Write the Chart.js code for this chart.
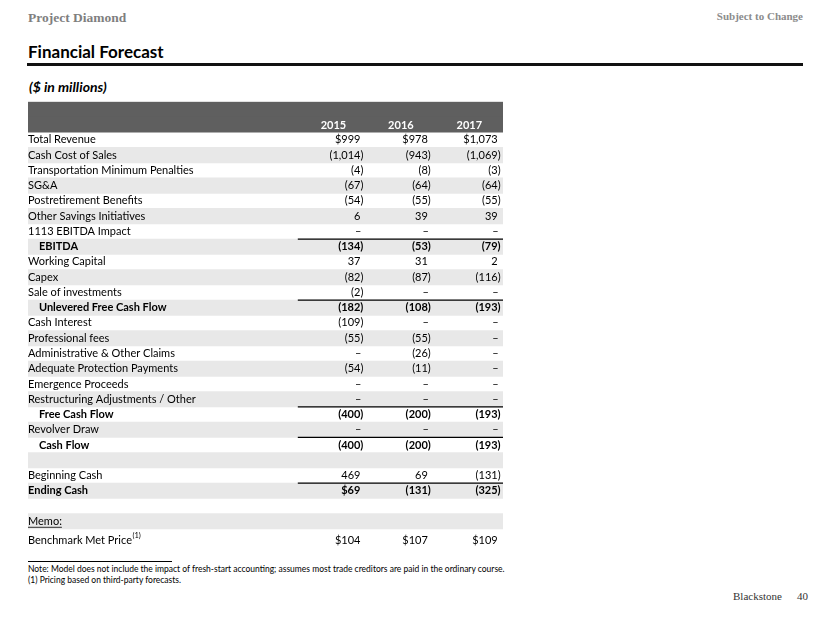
<!DOCTYPE html>
<html>
<head>
<meta charset="utf-8">
<script src="https://cdn.jsdelivr.net/npm/chart.js@4.4.1/dist/chart.umd.min.js"></script>
<style>
  html, body { margin: 0; padding: 0; background: #fff; }
  .page { position: relative; width: 830px; height: 623px; overflow: hidden; font-family: Lato, 'Open Sans', sans-serif; line-height: 1; }
  .serif { font-family: 'Liberation Serif', 'DejaVu Serif', serif; }
  .abs { position: absolute; white-space: nowrap; }
  #proj  { left: 28px; top: 11px; font-size: 13.5px; font-weight: bold; color: #7f7f7f; }
  #subj  { right: 27px; top: 11px; font-size: 11px; font-weight: bold; color: #8c8c8c; }
  #title { left: 28px; top: 43px; font-size: 17px; font-weight: bold; color: #000; }
  #rule  { left: 27px; top: 63px; width: 776px; height: 3px; background: #111; }
  #unit  { left: 29px; top: 80px; font-size: 14px; font-weight: bold; font-style: italic; color: #000; }
  #table { left: 0; top: 90px; width: 520px; height: 470px; }
  #fnrule { left: 28px; top: 561px; width: 144px; height: 1px; background: #000; }
  .fn    { left: 28px; font-size: 8.5px; color: #000; }
  #brand { left: 733px; top: 591px; font-size: 11px; color: #333; }
  #pgno  { left: 797px; top: 591px; font-size: 11px; color: #333; }
</style>
</head>
<body>
<div class="page">
  <div id="proj" class="abs serif">Project Diamond</div>
  <div id="subj" class="abs serif">Subject to Change</div>
  <div id="title" class="abs">Financial Forecast</div>
  <div id="rule" class="abs"></div>
  <div id="unit" class="abs">($ in millions)</div>
  <div id="table" class="abs"><canvas id="chart"></canvas></div>
  <div id="fnrule" class="abs"></div>
  <div class="abs fn" style="top:565px">Note: Model does not include the impact of fresh-start accounting; assumes most trade creditors are paid in the ordinary course.</div>
  <div class="abs fn" style="top:576px">(1) Pricing based on third-party forecasts.</div>
  <div id="brand" class="abs serif">Blackstone</div>
  <div id="pgno" class="abs serif">40</div>
</div>
<script>
// ---- data -----------------------------------------------------------------
var years = ['2015', '2016', '2017'];

var rowLabels = [
  'Total Revenue', 'Cash Cost of Sales', 'Transportation Minimum Penalties', 'SG&A',
  'Postretirement Benefits', 'Other Savings Initiatives', '1113 EBITDA Impact', 'EBITDA',
  'Working Capital', 'Capex', 'Sale of investments', 'Unlevered Free Cash Flow',
  'Cash Interest', 'Professional fees', 'Administrative & Other Claims',
  'Adequate Protection Payments', 'Emergence Proceeds', 'Restructuring Adjustments / Other',
  'Free Cash Flow', 'Revolver Draw', 'Cash Flow', '', 'Beginning Cash', 'Ending Cash',
  '', 'Memo:', 'Benchmark Met Price'
];

// 0 = dash, null = blank cell
var values2015 = [999, -1014, -4, -67, -54, 6, 0, -134, 37, -82, -2, -182, -109, -55, 0, -54, 0, 0, -400, 0, -400, null, 469, 69, null, null, 104];
var values2016 = [978, -943, -8, -64, -55, 39, 0, -53, 31, -87, 0, -108, 0, -55, -26, -11, 0, 0, -200, 0, -200, null, 69, -131, null, null, 107];
var values2017 = [1073, -1069, -3, -64, -55, 39, 0, -79, 2, -116, 0, -193, 0, 0, 0, 0, 0, 0, -193, 0, -193, null, -131, -325, null, null, 109];

var totalRows = [7, 11, 18, 20, 23];      // bold, ruled above
var indentRows = [7, 11, 18, 20];
var dollarRows = [0, 23, 26];
var memoRow = 25, footRow = 26;

// ---- layout (x scale runs 0..100 across the table width) -------------------
var FONT = "Lato, 'Open Sans', sans-serif";
var FSIZE = 11;
var HEAD = 2;                              // two category rows for the header band
var FOOT_DROP = 3.5;                       // memo line sits a little lower
var colRight = [70.6, 84.8, 99.5];
var yearCenter = [64.3, 78.5, 92.9];
var ruleFrom = 56.8;

var allLabels = ['', ''].concat(rowLabels);
var bands = allLabels.map(function (_, i) {
  if (i < HEAD) return [0, 100];
  return (i - HEAD) % 2 === 1 ? [0, 100] : null;
});
var bandColors = allLabels.map(function (_, i) { return i < HEAD ? '#5f5f5f' : '#e8e8e8'; });

function fmt(v, row) {
  if (v === null) return '';
  if (v === 0) return '\u2013';
  var s = Math.abs(v).toLocaleString('en-US');
  if (v < 0) return '(' + s + ')';
  return (dollarRows.indexOf(row) >= 0 ? '$' : '') + s;
}
function font(bold, size) {
  return (bold ? 'bold ' : '') + (size || FSIZE) + 'px ' + FONT;
}

var tableText = {
  id: 'tableText',
  afterDraw: function (chart) {
    var ctx = chart.ctx, x = chart.scales.x, y = chart.scales.y;
    var rowH = y.getPixelForValue(1) - y.getPixelForValue(0);
    ctx.save();
    ctx.textBaseline = 'middle';

    // year headers
    ctx.fillStyle = '#fff';
    ctx.font = font(true);
    ctx.textAlign = 'center';
    years.forEach(function (yr, i) {
      ctx.fillText(yr, x.getPixelForValue(yearCenter[i]), y.getPixelForValue(HEAD - 1) + 1);
    });

    // values
    ctx.fillStyle = '#000';
    ctx.textAlign = 'right';
    [values2015, values2016, values2017].forEach(function (col, c) {
      col.forEach(function (v, r) {
        var s = fmt(v, r);
        if (!s) return;
        var bold = totalRows.indexOf(r) >= 0;
        ctx.font = font(bold);
        var px = x.getPixelForValue(colRight[c]);
        if (s.charAt(s.length - 1) !== ')') px -= (v === 0 ? 2 : ctx.measureText(')').width);
        ctx.fillText(s, px, y.getPixelForValue(r + HEAD) + (r === footRow ? FOOT_DROP : 0));
      });
    });

    // subtotal rules
    ctx.strokeStyle = '#000';
    ctx.lineWidth = 1.3;
    totalRows.forEach(function (r) {
      var py = y.getPixelForValue(r + HEAD) - rowH / 2;
      ctx.beginPath();
      ctx.moveTo(x.getPixelForValue(ruleFrom), py);
      ctx.lineTo(x.getPixelForValue(100), py);
      ctx.stroke();
    });

    // memo underline
    ctx.font = font(false);
    var my = y.getPixelForValue(memoRow + HEAD);
    var mw = ctx.measureText(rowLabels[memoRow]).width;
    ctx.lineWidth = 0.8;
    ctx.beginPath();
    ctx.moveTo(x.left, my + 6);
    ctx.lineTo(x.left + mw, my + 6);
    ctx.stroke();

    // benchmark label (dropped below the tick row) with footnote marker
    var fy = y.getPixelForValue(footRow + HEAD) + FOOT_DROP;
    ctx.textAlign = 'left';
    ctx.fillText(rowLabels[footRow], x.left, fy);
    var fw = ctx.measureText(rowLabels[footRow]).width;
    ctx.font = font(false, 7.5);
    ctx.fillText('(1)', x.left + fw + 0.5, fy - 4.5);
    ctx.restore();
  }
};

new Chart(document.getElementById('chart'), {
  type: 'bar',
  data: {
    labels: allLabels,
    datasets: [{
      data: bands,
      backgroundColor: bandColors,
      borderWidth: 0,
      inflateAmount: 0.4,
      categoryPercentage: 1,
      barPercentage: 1
    }]
  },
  options: {
    indexAxis: 'y',
    responsive: true,
    maintainAspectRatio: false,
    animation: false,
    events: [],
    layout: { padding: { left: 28, right: 17, top: 11.7, bottom: 15.8 } },
    plugins: { legend: { display: false }, tooltip: { enabled: false } },
    scales: {
      x: { type: 'linear', min: 0, max: 100, display: false },
      y: {
        grid: { display: false, drawTicks: false },
        border: { display: false },
        ticks: {
          z: 1,
          mirror: true,
          padding: 0,
          autoSkip: false,
          color: '#000',
          font: function (c) {
            var r = c.index - HEAD;
            return { family: FONT, size: FSIZE, weight: totalRows.indexOf(r) >= 0 ? 'bold' : 'normal' };
          },
          callback: function (val, i) {
            var r = i - HEAD;
            if (r === footRow) return '';          // drawn by the plugin, slightly lower
            var lbl = this.getLabelForValue(val);
            return indentRows.indexOf(r) >= 0 ? '\u2003 ' + lbl : lbl;
          }
        }
      }
    }
  },
  plugins: [tableText]
});
</script>
</body>
</html>
